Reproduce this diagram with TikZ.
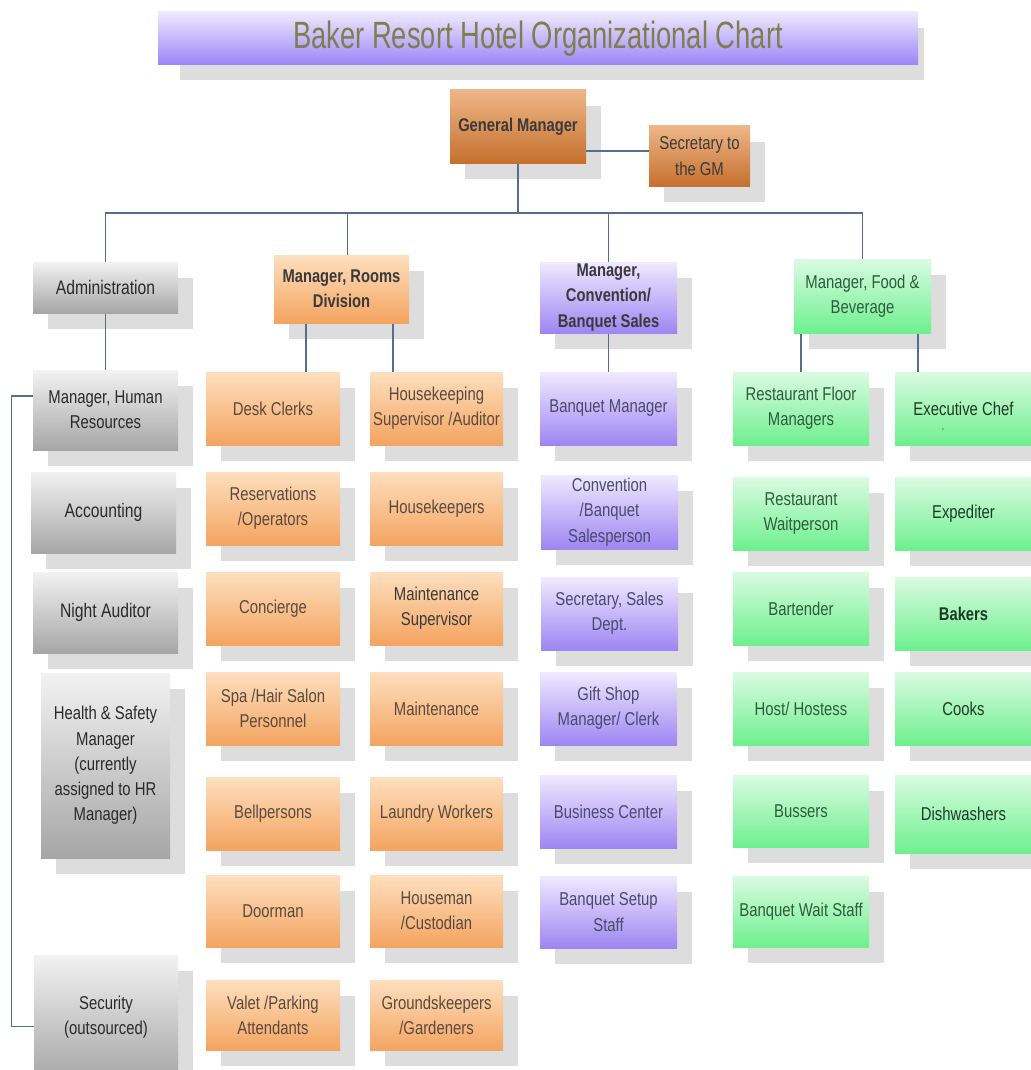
\documentclass[tikz,border=0pt]{standalone}
\usepackage{fontspec}
\setmainfont{Liberation Sans}[FakeStretch=0.8]
\newfontfamily\bannerfont{Liberation Sans}[FakeStretch=0.72]
\usetikzlibrary{calc}

\pgfdeclarelayer{shadowl}
\pgfdeclarelayer{edgel}
\pgfsetlayers{shadowl,edgel,main}

% palette
\definecolor{shadowgray}{HTML}{DDDDDD}
\definecolor{linecol}{HTML}{546F8C}
\definecolor{titletop}{HTML}{EEEAFF}
\definecolor{titlebot}{HTML}{9A84F5}
\definecolor{titletext}{HTML}{7E7E4E}
\definecolor{graytop}{HTML}{F2F2F2}
\definecolor{graybot}{HTML}{A6A6A6}
\definecolor{graytext}{HTML}{2A2A2A}
\definecolor{gmtop}{HTML}{EEB688}
\definecolor{gmbot}{HTML}{C5702D}
\definecolor{ortop}{HTML}{FDDFBF}
\definecolor{orbot}{HTML}{F4A460}
\definecolor{ortext}{HTML}{5A4A3E}
\definecolor{putop}{HTML}{EFEAFF}
\definecolor{pubot}{HTML}{9D86F2}
\definecolor{putext}{HTML}{4A4A6C}
\definecolor{grtop}{HTML}{DAFBE2}
\definecolor{grbot}{HTML}{6EF08E}
\definecolor{grtext}{HTML}{2F5C3C}
\definecolor{grdark}{HTML}{1E3A27}
\definecolor{headtext}{HTML}{3A3A3A}

\tikzset{
  basebox/.style={draw=none, inner sep=0pt, align=center,
    font={\fontsize{9.3}{12.6}\selectfont}},
  boldtext/.style={font={\fontsize{9.2}{12.6}\selectfont\bfseries}},
  largetext/.style={font={\fontsize{9.8}{12.6}\selectfont}},
  gbox/.style={basebox, top color=graytop, bottom color=graybot, text=graytext},
  gmbox/.style={basebox, top color=gmtop, bottom color=gmbot, text=headtext},
  obox/.style={basebox, top color=ortop, bottom color=orbot, text=ortext},
  ohead/.style={obox, text=headtext, boldtext},
  pbox/.style={basebox, top color=putop, bottom color=pubot, text=putext},
  phead/.style={pbox, text=headtext, boldtext},
  fbox/.style={basebox, top color=grtop, bottom color=grbot, text=grtext},
  fdark/.style={fbox, text=grdark},
  link/.style={draw=linecol, line width=0.75pt},
}

% box with its offset shadow: name, style, x1, y1, x2, y2, text
\newcommand\orgbox[7]{%
  \begin{pgfonlayer}{shadowl}
    \fill[shadowgray] ({#3+15},{#4+16}) rectangle ({#5+15},{#6+16});
  \end{pgfonlayer}
  \node[#2, minimum width={(#5-#3)*0.5pt}, minimum height={(#6-#4)*0.5pt}]
    (#1) at ({(#3+#5)/2},{(#4+#6)/2}) {#7};
}

\begin{document}
\begin{tikzpicture}[x=0.5pt, y=-0.5pt]
\begin{pgfonlayer}{shadowl}
  \fill[white] (0,0) rectangle (1031,1070);
  \fill[shadowgray] (180,28) rectangle (924,80);
\end{pgfonlayer}
\useasboundingbox (0,0) rectangle (1031,1070);

% title banner
\node[draw=none, inner sep=0pt, top color=titletop, bottom color=titlebot,
  text=titletext, font={\fontsize{19}{20}\bannerfont},
  minimum width=380pt, minimum height=26.5pt] (title) at (538,38.5)
  {Baker Resort Hotel Organizational Chart};

% top of the hierarchy
\orgbox{gm}{gmbox, boldtext}{450}{90}{586}{163}{General Manager}
\orgbox{sec}{gmbox}{649}{126}{750}{186}{Secretary to\\the GM}

% department heads
\orgbox{admin}{gbox, largetext}{33}{262}{178}{313}{Administration}
\orgbox{rooms}{ohead}{274}{255}{409}{323}{Manager, Rooms\\Division}
\orgbox{conv}{phead}{540}{262}{677}{333}{Manager,\\Convention/\\Banquet Sales}
\orgbox{fb}{fbox}{794}{259}{931}{333}{Manager, Food \&\\Beverage}

% administration column
\orgbox{hr}{gbox}{33}{370}{178}{450}{Manager, Human\\Resources}
\orgbox{acct}{gbox, largetext}{31}{472}{176}{553}{Accounting}
\orgbox{night}{gbox, largetext}{33}{572}{178}{653}{Night Auditor}
\orgbox{health}{gbox}{41}{673}{170}{858}{Health \& Safety\\Manager\\(currently\\assigned to HR\\Manager)}
\orgbox{secu}{gbox}{34}{955}{178}{1080}{Security\\(outsourced)}

% rooms division, front of house
\orgbox{desk}{obox}{206}{372}{340}{445}{Desk Clerks}
\orgbox{resv}{obox}{206}{472}{340}{545}{Reservations\\/Operators}
\orgbox{conc}{obox}{206}{572}{340}{645}{Concierge}
\orgbox{spa}{obox}{206}{672}{340}{745}{Spa /Hair Salon\\Personnel}
\orgbox{bell}{obox}{206}{777}{340}{850}{Bellpersons}
\orgbox{door}{obox}{206}{875}{340}{947}{Doorman}
\orgbox{valet}{obox}{206}{980}{340}{1050}{Valet /Parking\\Attendants}

% rooms division, housekeeping and upkeep
\orgbox{hksup}{obox}{370}{372}{503}{445}{Housekeeping\\Supervisor /Auditor}
\orgbox{hkeep}{obox}{370}{472}{503}{545}{Housekeepers}
\orgbox{mtsup}{obox, text=headtext}{370}{572}{503}{645}{Maintenance\\Supervisor}
\orgbox{maint}{obox}{370}{672}{503}{745}{Maintenance}
\orgbox{laund}{obox}{370}{777}{503}{850}{Laundry Workers}
\orgbox{house}{obox}{370}{875}{503}{947}{Houseman\\/Custodian}
\orgbox{ground}{obox}{370}{980}{503}{1050}{Groundskeepers\\/Gardeners}

% convention and banquet sales
\orgbox{bqmgr}{pbox}{540}{372}{677}{445}{Banquet Manager}
\orgbox{sales}{pbox}{541}{475}{678}{549}{Convention\\/Banquet\\Salesperson}
\orgbox{secs}{pbox}{541}{577}{678}{650}{Secretary, Sales\\Dept.}
\orgbox{gift}{pbox}{540}{672}{677}{745}{Gift Shop\\Manager/ Clerk}
\orgbox{biz}{pbox}{540}{775}{677}{848}{Business Center}
\orgbox{setup}{pbox}{540}{876}{677}{948}{Banquet Setup\\Staff}

% food and beverage, service
\orgbox{rfm}{fbox}{733}{372}{869}{445}{Restaurant Floor\\Managers}
\orgbox{wait}{fbox}{733}{477}{869}{550}{Restaurant\\Waitperson}
\orgbox{bar}{fbox}{733}{572}{869}{645}{Bartender}
\orgbox{host}{fbox}{733}{672}{869}{745}{Host/ Hostess}
\orgbox{buss}{fbox}{733}{775}{869}{847}{Bussers}
\orgbox{bqwait}{fbox}{733}{876}{869}{947}{Banquet Wait Staff}

% food and beverage, kitchen
\orgbox{chef}{fdark}{895}{372}{1032}{445}{Executive Chef}
\node[text=grdark, inner sep=0pt, font={\fontsize{5}{5}\selectfont}] (chefmark) at (943,432) {'};
\orgbox{exped}{fdark}{895}{477}{1032}{550}{Expediter}
\orgbox{bakers}{fdark, boldtext}{895}{577}{1032}{650}{Bakers}
\orgbox{cooks}{fdark}{895}{672}{1032}{745}{Cooks}
\orgbox{dish}{fdark}{895}{775}{1032}{853}{Dishwashers}

% reporting lines
\begin{pgfonlayer}{edgel}
  \coordinate (bus) at (518,213);
  \draw[link] ([yshift=2.5pt]sec.west) -- ([yshift=2.5pt]sec.west -| gm.east);
  \draw[link] (gm.south) -- (gm.south |- bus);
  \draw[link] (admin.north) -- (admin.north |- bus) -- (fb.north |- bus) -- (fb.north);
  \draw[link] ([xshift=3pt]rooms.north) -- ([xshift=3pt]rooms.north |- bus);
  \draw[link] (conv.north) -- (conv.north |- bus);
  \draw[link] (admin.south) -- (hr.north);
  \draw[link] ([yshift=7pt]hr.west) -- ++(-21,0) |- ([yshift=-4.5pt]secu.west);
  \draw[link] ([xshift=-17.75pt]rooms.south) -- ([xshift=-17.75pt]rooms.south |- desk.north);
  \draw[link] ([xshift=25.75pt]rooms.south) -- ([xshift=25.75pt]rooms.south |- hksup.north);
  \draw[link] (conv.south) -- (bqmgr.north);
  \draw[link] ([xshift=-30.75pt]fb.south) -- ([xshift=-30.75pt]fb.south |- rfm.north);
  \draw[link] ([xshift=27.75pt]fb.south) -- ([xshift=27.75pt]fb.south |- chef.north);
\end{pgfonlayer}
\end{tikzpicture}
\end{document}
